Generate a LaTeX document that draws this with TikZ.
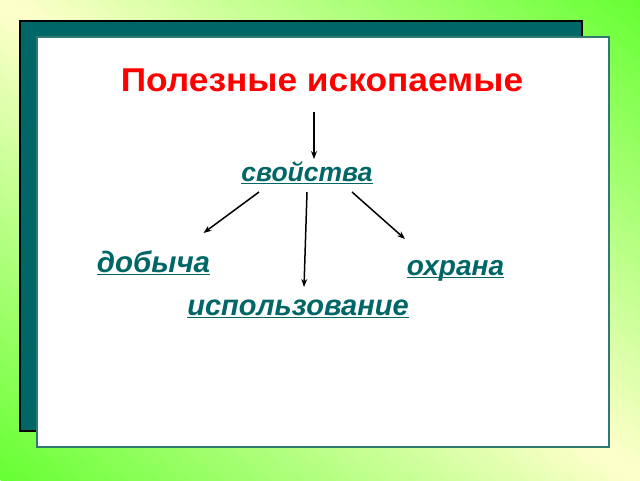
\documentclass[tikz,border=0pt]{standalone}
\usepackage{fontspec}
\setmainfont{Liberation Sans}
\usepackage{tikz}
\usetikzlibrary{positioning, calc, arrows.meta}
\definecolor{paleColor}{RGB}{255,255,204}
\definecolor{greenColor}{RGB}{102,255,51}
\definecolor{boardColor}{RGB}{0,102,102}
\definecolor{sheetEdgeColor}{RGB}{46,122,112}
\definecolor{titleColor}{RGB}{255,0,0}
\definecolor{termColor}{RGB}{0,102,102}
\tikzstyle{slide} = [x = 1pt, y = -1pt]
\tikzstyle{boardStyle} = [fill=boardColor, draw=black, line width=1.5pt]
\tikzstyle{sheetStyle} = [fill=white, draw=sheetEdgeColor, line width=1.5pt]
\tikzstyle{titleText} = [anchor=base, inner sep=0pt, text=titleColor, xscale=1.07, transform shape, font=\fontsize{33}{40}\selectfont\bfseries]
\tikzstyle{termText} = [anchor=base, inner sep=0pt, text=termColor]
\tikzstyle{termLine} = [draw=termColor, line width=1.5pt]
\tikzstyle{arrowLine} = [draw=black, line width=1.5pt, -{Stealth[length=8pt, width=6pt]}]
\newcommand{\stripeCount}{80}
\newcommand{\backgroundStripes}{
  \foreach \stripe in {1,...,\stripeCount} {
    \pgfmathsetmacro{\sA}{-1 + 2 * (\stripe - 1) / \stripeCount}
    \pgfmathsetmacro{\sB}{\sA + 2.6 / \stripeCount}
    \pgfmathsetmacro{\mix}{abs(\sA + 1 / \stripeCount) * 100}
    \fill [greenColor!\mix!paleColor] ({320 * \sA}, {-240 * \sA}) -- ({320 * (2 + \sA)}, {240 * (2 - \sA)})
      -- ({320 * (2 + \sB)}, {240 * (2 - \sB)}) -- ({320 * \sB}, {-240 * \sB}) -- cycle;
  }
}
\newcommand{\termNode}[5]{\node [termText, font=\fontsize{#5}{#5}\selectfont\bfseries\itshape] (#1) at (#2, #3) {#4};
  \draw [termLine] ($(#1.base west) + (0, 2.5)$) -- ($(#1.base east) + (0, 2.5)$);}

\begin{document}
\begin{tikzpicture}[slide]
  \useasboundingbox (0, 0) rectangle (640, 480);
  \clip (0, 0) rectangle (640, 480);
  \backgroundStripes

  \filldraw [boardStyle] (20, 21) rectangle (582, 431);
  \filldraw [sheetStyle] (37, 37) rectangle (609, 447);

  \node [titleText] (title) at (322, 91) {Полезные ископаемые};
  \termNode{props}{307}{181}{свойства}{26.5}
  \termNode{extraction}{153.5}{272}{добыча}{29.5}
  \termNode{protection}{455.5}{275}{охрана}{28}
  \termNode{usage}{298}{315}{использование}{29}

  \draw [arrowLine] ($(title.base) + (-8, 21)$) -- ($(props.base) + (7, -22)$);
  \draw [arrowLine] ($(props.base) + (-48, 11)$) -- ($(extraction.base) + (50, -39)$);
  \draw [arrowLine] ($(props.base) + (0, 11)$) -- ($(usage.base) + (6, -28)$);
  \draw [arrowLine] ($(props.base) + (45, 11)$) -- ($(protection.base) + (-50.5, -36)$);
\end{tikzpicture}
\end{document}
